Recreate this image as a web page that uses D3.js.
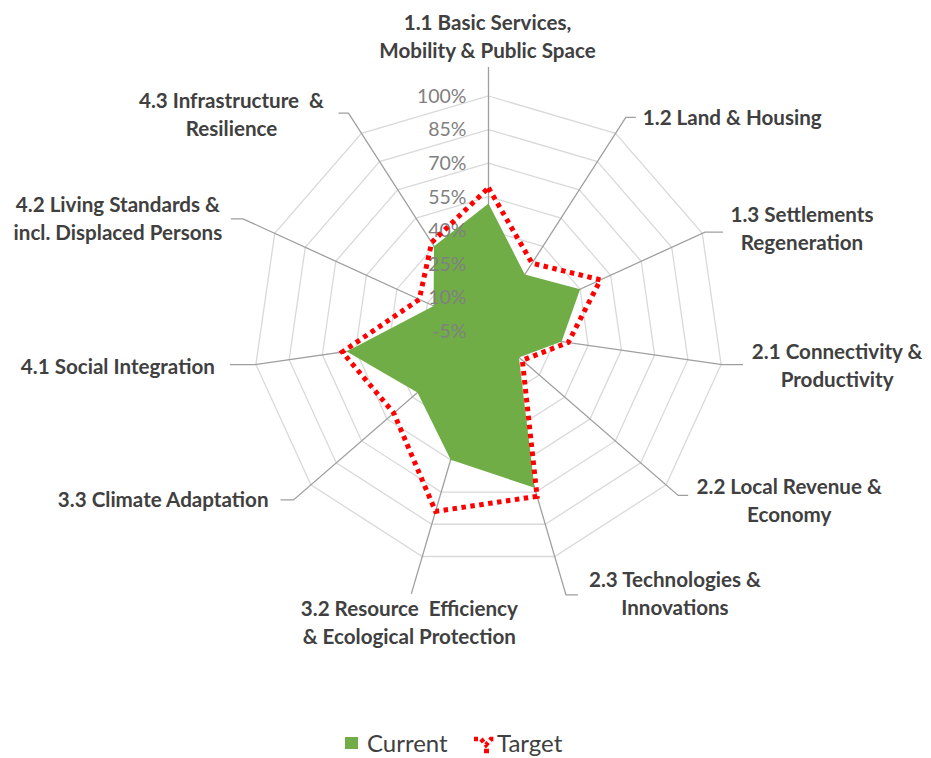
<!DOCTYPE html>
<html><head><meta charset="utf-8">
<script src="https://cdn.jsdelivr.net/npm/d3@7"></script>
<style>body{margin:0;background:#fff} svg{display:block}</style>
</head><body>
<svg id="chart" width="931" height="758"></svg>
<script>
// ---------- data ----------
const categories = [
  "1.1 Basic Services,\nMobility & Public Space",
  "1.2 Land & Housing",
  "1.3 Settlements\nRegeneration",
  "2.1 Connectivity &\nProductivity",
  "2.2 Local Revenue &\nEconomy",
  "2.3 Technologies &\nInnovations",
  "3.2 Resource  Efficiency\n& Ecological Protection",
  "3.3 Climate Adaptation",
  "4.1 Social Integration",
  "4.2 Living Standards &\nincl. Displaced Persons",
  "4.3 Infrastructure  &\nResilience"
];
const currentValues = [52, 25, 40, 28, 13, 68, 55, 37, 59, 22, 40];
const targetValues  = [59, 31, 50, 31, 15, 72, 79, 51, 61, 29, 42];
const tickValues = [-5, 10, 25, 40, 55, 70, 85, 100];
const tickLabels = ["-5%", "10%", "25%", "40%", "55%", "70%", "85%", "100%"];
const seriesNames = ["Current", "Target"];

// ---------- layout ----------
const W = 931, H = 758;
const cx = 488.5, cy = 331, R = 235;
const n = categories.length;
const green = "#70ad47", red = "#ff0000";
const textColor = "#404040";
const font = "Lato, 'Open Sans', sans-serif";

// leader line layout per axis: spoke end radius, horizontal elbow, label offset from elbow end
const leader = [
  {rEnd: 264, elbow: 0,   anchor: "middle", dx: -1,  dy: -30},
  {rEnd: 254, elbow: 10,  anchor: "start",  dx: 7,   dy: 0},
  {rEnd: 238, elbow: 18,  anchor: "middle", dx: 79,  dy: -3},
  {rEnd: 236, elbow: 21,  anchor: "middle", dx: 94,  dy: 1},
  {rEnd: 251, elbow: 10,  anchor: "middle", dx: 101, dy: 5},
  {rEnd: 275, elbow: 12,  anchor: "middle", dx: 97,  dy: -1},
  {rEnd: 274, elbow: 0,   anchor: "middle", dx: -2,  dy: 29},
  {rEnd: 258, elbow: -13, anchor: "end",    dx: -12, dy: 0},
  {rEnd: 236, elbow: -25, anchor: "end",    dx: -15, dy: 2},
  {rEnd: 270, elbow: -12, anchor: "middle", dx: -113, dy: 0},
  {rEnd: 259, elbow: -10, anchor: "middle", dx: -107, dy: 2}
];

const svg = d3.select("#chart");
svg.append("rect").attr("width", W).attr("height", H).attr("fill", "#fff");

const rScale = d3.scaleLinear().domain([tickValues[0], tickValues[tickValues.length - 1]]).range([0, R]);
const angle = d3.scaleLinear().domain([0, n]).range([0, 2 * Math.PI]);

const pt = (i, r) => [cx + r * Math.sin(angle(i)), cy - r * Math.cos(angle(i))];

const g = svg.append("g");

// grid rings
tickValues.slice(1).forEach(t => {
  const pts = d3.range(n).map(i => pt(i, rScale(t)));
  g.append("path")
    .attr("d", d3.line()(pts) + "Z")
    .attr("fill", "none")
    .attr("stroke", "#d9d9d9")
    .attr("stroke-width", 1.3);
});

// spokes with leader elbows
d3.range(n).forEach(i => {
  const L = leader[i];
  const p = pt(i, L.rEnd);
  const q = [p[0] + L.elbow, p[1]];
  g.append("path")
    .attr("d", d3.line()([[cx, cy], p, q]))
    .attr("fill", "none")
    .attr("stroke", "#9f9f9f")
    .attr("stroke-width", 1.3);
});

// current area
const radial = d3.lineRadial()
  .angle((d, i) => angle(i))
  .radius(d => rScale(d))
  .curve(d3.curveLinearClosed);

g.append("path")
  .attr("transform", `translate(${cx},${cy})`)
  .attr("d", radial(currentValues))
  .attr("fill", green);

// tick labels
g.selectAll("text.tick").data(tickValues).enter().append("text")
  .attr("class", "tick")
  .attr("x", cx - 22)
  .attr("y", d => cy - rScale(d))
  .attr("dy", "0.35em")
  .attr("text-anchor", "end")
  .attr("font-family", font)
  .attr("font-size", 19.5)
  .attr("fill", "#808080")
  .text((d, i) => tickLabels[i]);

// target line
g.append("path")
  .attr("transform", `translate(${cx},${cy})`)
  .attr("d", radial(targetValues))
  .attr("fill", "none")
  .attr("stroke", red)
  .attr("stroke-width", 5)
  .attr("stroke-dasharray", "4.5 4.5");

// category labels
d3.range(n).forEach(i => {
  const L = leader[i];
  const p = pt(i, L.rEnd);
  const q = [p[0] + L.elbow, p[1]];
  const lines = categories[i].split("\n");
  const lh = 28;
  const x = q[0] + L.dx;
  const y0 = q[1] + L.dy - (lines.length - 1) * lh / 2;
  const t = g.append("text")
    .attr("font-family", font)
    .attr("font-weight", "bold")
    .attr("font-size", 20.6)
    .attr("fill", textColor)
    .attr("text-anchor", L.anchor)
    .style("white-space", "pre");
  lines.forEach((s, j) => {
    t.append("tspan").attr("x", x).attr("y", y0 + j * lh).attr("dy", "0.35em").text(s);
  });
});

// legend
const lg = svg.append("g");
lg.append("rect").attr("x", 345).attr("y", 737).attr("width", 13).attr("height", 12).attr("fill", green);
lg.append("text").attr("x", 367).attr("y", 744).attr("dy", "0.35em")
  .attr("font-family", font).attr("font-size", 24).attr("fill", textColor).text(seriesNames[0]);
lg.append("path")
  .attr("d", d3.line()([[474, 739], [481, 739], [486, 745], [491, 739], [496, 739]]))
  .attr("fill", "none").attr("stroke", red).attr("stroke-width", 4.5).attr("stroke-dasharray", "4 3");
lg.append("path")
  .attr("d", d3.line()([[484, 751], [489, 751]]))
  .attr("fill", "none").attr("stroke", red).attr("stroke-width", 4.5);
lg.append("text").attr("x", 497).attr("y", 744).attr("dy", "0.35em")
  .attr("font-family", font).attr("font-size", 24).attr("fill", textColor).text(seriesNames[1]);
</script>
</body></html>
